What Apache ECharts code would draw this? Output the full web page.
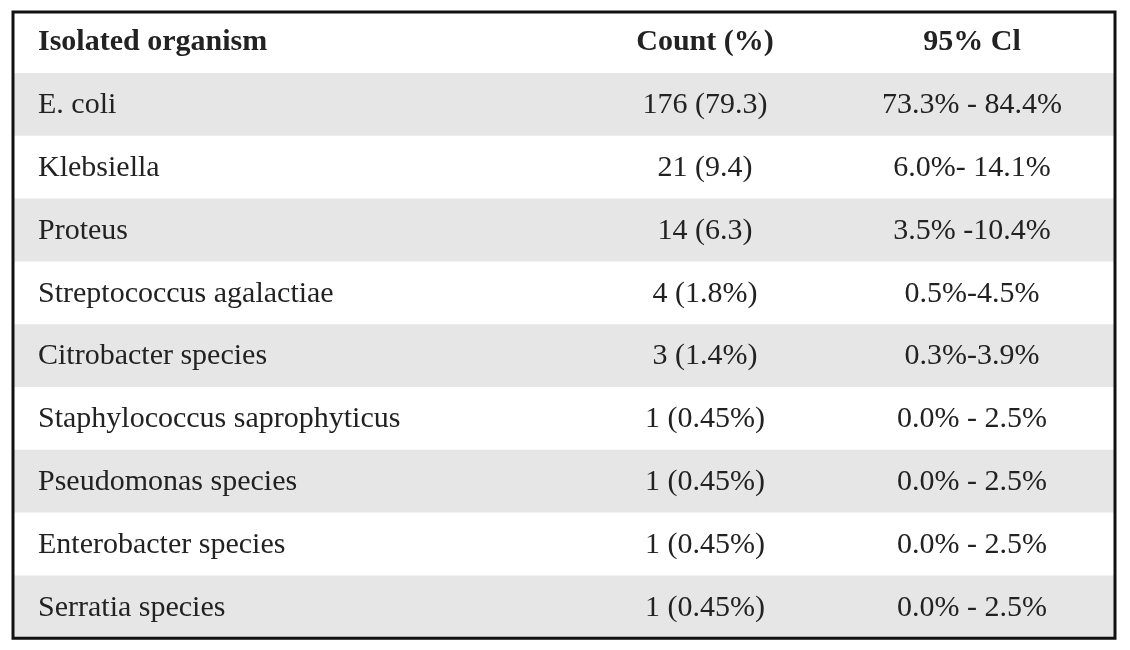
<!DOCTYPE html>
<html>
<head>
<meta charset="utf-8">
<script src="https://cdn.jsdelivr.net/npm/echarts@6/dist/echarts.min.js"></script>
<style>
html, body { margin: 0; padding: 0; background: #fff; }
#main { width: 1130px; height: 650px; }
</style>
</head>
<body>
<div id="main"></div>
<script>
var headers = ['Isolated organism', 'Count (%)', '95% Cl'];
var organisms = ['E. coli', 'Klebsiella', 'Proteus', 'Streptococcus agalactiae', 'Citrobacter species',
    'Staphylococcus saprophyticus', 'Pseudomonas species', 'Enterobacter species', 'Serratia species'];
var counts = ['176 (79.3)', '21 (9.4)', '14 (6.3)', '4 (1.8%)', '3 (1.4%)',
    '1 (0.45%)', '1 (0.45%)', '1 (0.45%)', '1 (0.45%)'];
var intervals = ['73.3% - 84.4%', '6.0%- 14.1%', '3.5% -10.4%', '0.5%-4.5%', '0.3%-3.9%',
    '0.0% - 2.5%', '0.0% - 2.5%', '0.0% - 2.5%', '0.0% - 2.5%'];

var chart = echarts.init(document.getElementById('main'));

var x0 = 13, y0 = 12, tableW = 1102, headerH = 61, rowH = 62.8;
var family = 'Liberation Serif';
var colX = [38, 705, 972];
var els = [];

function cell(txt, x, y, align, bold) {
    return {
        type: 'text', x: x, y: y, z: 2,
        style: {
            text: txt, fontFamily: family, fontSize: 30,
            fontWeight: bold ? 'bold' : 'normal', fill: '#222',
            align: align, verticalAlign: 'middle'
        }
    };
}

els.push(cell(headers[0], colX[0], y0 + headerH / 2, 'left', true));
els.push(cell(headers[1], colX[1], y0 + headerH / 2, 'center', true));
els.push(cell(headers[2], colX[2], y0 + headerH / 2, 'center', true));

for (var i = 0; i < organisms.length; i++) {
    var y = y0 + headerH + i * rowH;
    if (i % 2 === 0) {
        els.push({ type: 'rect', z: 0, shape: { x: x0, y: y, width: tableW, height: rowH },
            style: { fill: '#e6e6e6' } });
    }
    var cy = y + rowH / 2 + 1;
    els.push(cell(organisms[i], colX[0], cy, 'left', false));
    els.push(cell(counts[i], colX[1], cy, 'center', false));
    els.push(cell(intervals[i], colX[2], cy, 'center', false));
}

els.push({ type: 'rect', z: 5,
    shape: { x: x0, y: y0, width: tableW, height: headerH + organisms.length * rowH },
    style: { fill: 'none', stroke: '#111', lineWidth: 3 } });

chart.setOption({ animation: false, graphic: els });
</script>
</body>
</html>
